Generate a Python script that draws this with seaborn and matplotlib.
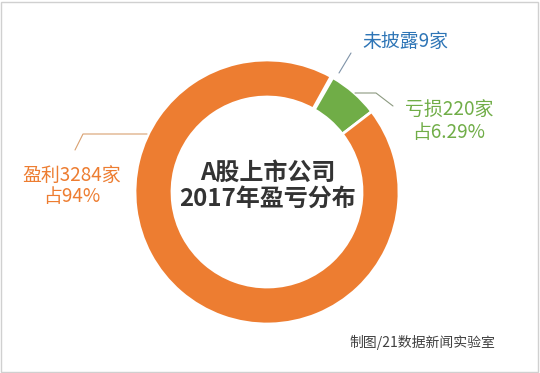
import matplotlib
matplotlib.use("Agg")
import matplotlib.pyplot as plt
import seaborn as sns

# Data
categories = ["未披露", "亏损", "盈利"]
counts = [9, 220, 3284]
share_labels = ["", "占6.29%", "占94%"]
colors = ["#2E75B6", "#70AD47", "#ED7D31"]

sns.set_theme(style="white")
plt.rcParams["font.family"] = ["Noto Sans CJK SC", "DejaVu Sans"]

W, H = 540, 373
fig = plt.figure(figsize=(W / 100, H / 100), dpi=100)
ax = fig.add_axes([0, 0, 1, 1])


def py(y):
    # convert pixel y (from top) to axes coordinates
    return H - y


cx, cy, r = 267, py(192), 132
ax.pie(counts, colors=colors, startangle=61, counterclock=False,
       center=(cx, cy), radius=r, frame=True,
       wedgeprops=dict(width=37, edgecolor="white", linewidth=2))
ax.set_xlim(0, W)
ax.set_ylim(0, H)
ax.set_aspect("equal")
ax.axis("off")

# center title
ax.text(268, py(173), "A股上市公司", ha="center", va="center",
        fontsize=17.3, fontweight="bold", color="#333333")
ax.text(268, py(199), "2017年盈亏分布", ha="center", va="center",
        fontsize=17.3, fontweight="bold", color="#333333")

# labels
lab = 13.6
ax.text(405, py(41), f"{categories[0]}{counts[0]}家", ha="center", va="center",
        fontsize=lab, color=colors[0])
ax.text(449, py(110), f"{categories[1]}{counts[1]}家", ha="center", va="center",
        fontsize=lab, color=colors[1])
ax.text(449, py(132), share_labels[1], ha="center", va="center",
        fontsize=lab, color=colors[1])
ax.text(72, py(175), f"{categories[2]}{counts[2]}家", ha="center", va="center",
        fontsize=lab, color=colors[2])
ax.text(72, py(196), share_labels[2], ha="center", va="center",
        fontsize=lab, color=colors[2])

# leader lines
ax.plot([339, 351], [py(73), py(53)], color="#7f93a8", lw=0.8)
ax.plot([355, 376, 393], [py(93), py(93), py(106)], color="#8c9a80", lw=0.8)
ax.plot([147, 83, 75], [py(134), py(134), py(150)], color="#d9a070", lw=0.8)

# source
ax.text(422, py(342), "制图/21数据新闻实验室", ha="center", va="center",
        fontsize=10, color="#404040")

# border
ax.add_patch(plt.Rectangle((1, 1), W - 3, H - 3, fill=False,
                           edgecolor="#d0d0d0", lw=1))

fig.savefig("out.png", dpi=100)
